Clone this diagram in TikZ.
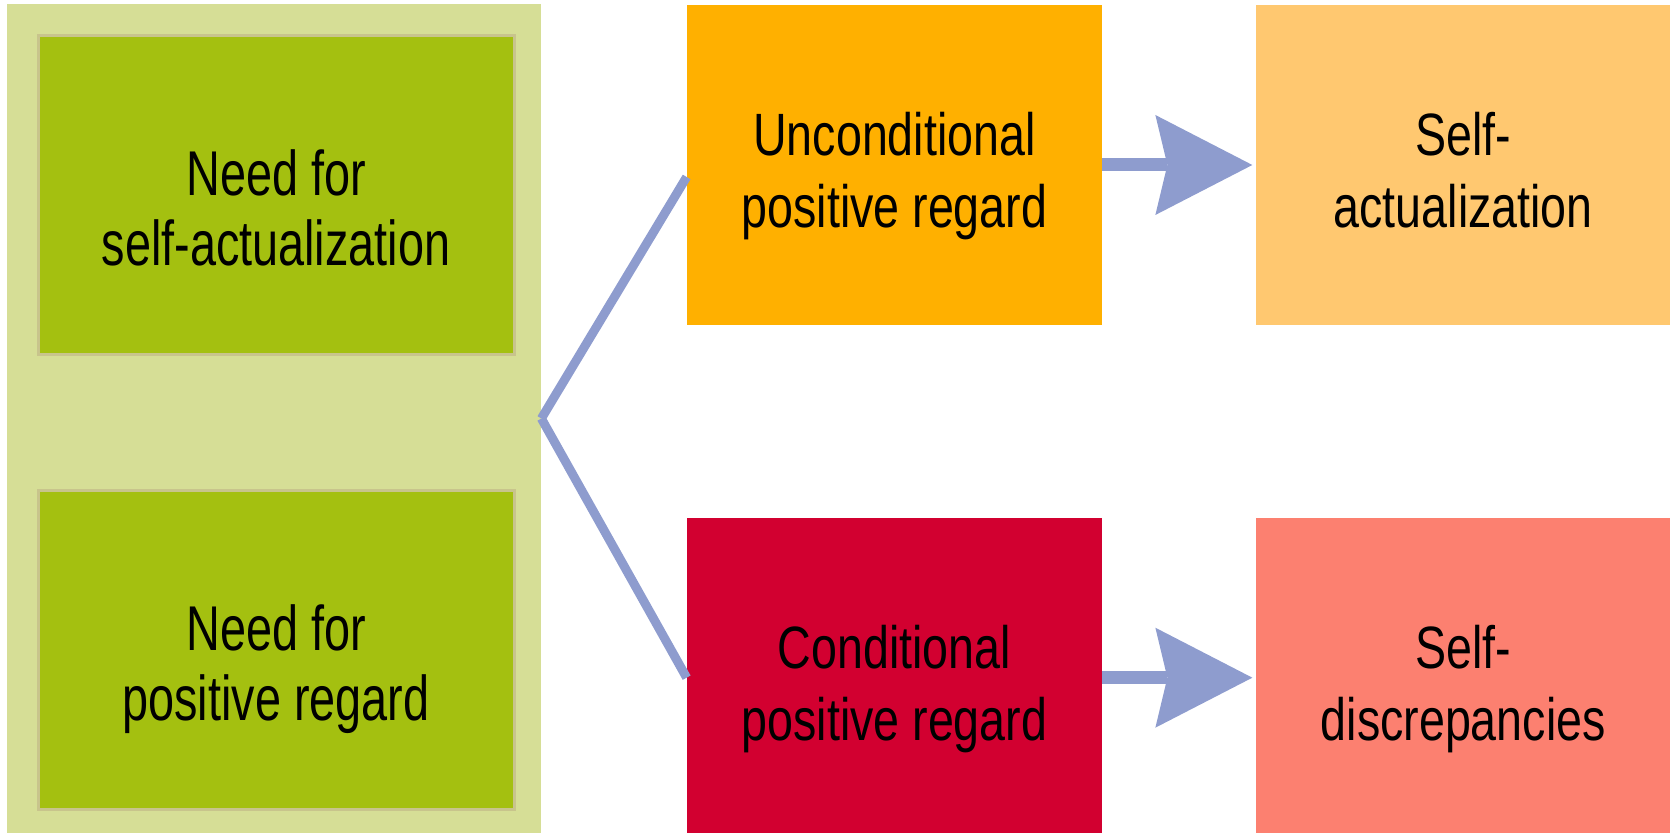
\documentclass[tikz,border=0pt]{standalone}
\usepackage{fontspec}
\newfontfamily\boxfont[FakeStretch=0.74]{Liberation Sans}
\newfontfamily\narrowfont[FakeStretch=0.78]{Liberation Sans}
\usepackage{tikz}
\usetikzlibrary{arrows.meta,positioning}

\definecolor{panelfill}{RGB}{214,222,150}
\definecolor{panelline}{RGB}{200,196,140}
\definecolor{needgreen}{RGB}{164,192,16}
\definecolor{uncondorange}{RGB}{255,176,0}
\definecolor{actpeach}{RGB}{255,200,112}
\definecolor{condred}{RGB}{210,0,48}
\definecolor{discsalmon}{RGB}{252,128,112}
\definecolor{linkblue}{RGB}{142,156,206}

\begin{document}
\begin{tikzpicture}[
    need/.style={fill=needgreen, draw=panelline, line width=0.06cm, minimum width=9.52cm, minimum height=6.38cm, inner sep=0pt, text height=3.12cm, text depth=0.3cm, align=center, font=\boxfont\fontsize{36}{40}\selectfont},
    regard/.style={minimum width=8.3cm, minimum height=6.4cm, inner sep=0pt, text height=2.82cm, text depth=0.3cm, align=center, font=\narrowfont\fontsize{34}{41}\selectfont},
    link/.style={draw=linkblue, line width=0.18cm},
    flow/.style={draw=linkblue, line width=0.26cm, shorten >=0.06cm, -{Stealth[length=1.94cm, width=2cm, inset=0.24cm, line width=0pt]}}
]
    \useasboundingbox (0,0) rectangle (33.4,16.66);

    \node[fill=panelfill, minimum width=10.68cm, minimum height=16.58cm, inner sep=0pt] (panel) at (5.48,8.29) {};

    \node[need] (needself) at (5.52,12.75) {Need for\\self-actualization};
    \node[need, below=2.66cm of needself] (needpos) {Need for\\positive regard};

    \node[regard, fill=uncondorange] (uncond) at (17.89,13.36) {Unconditional\\positive regard};
    \node[regard, fill=actpeach, right=3.06cm of uncond] (selfact) {Self-\\actualization};

    \node[regard, fill=condred, below=3.84cm of uncond] (cond) {Conditional\\positive regard};
    \node[regard, fill=discsalmon, right=3.06cm of cond] (selfdisc) {Self-\\discrepancies};

    \draw[link] (panel.east) -- ([yshift=-0.24cm]uncond.west);
    \draw[link] (panel.east) -- (cond.west);

    \draw[flow] (uncond.east) -- (selfact.west);
    \draw[flow] (cond.east) -- (selfdisc.west);
\end{tikzpicture}
\end{document}
